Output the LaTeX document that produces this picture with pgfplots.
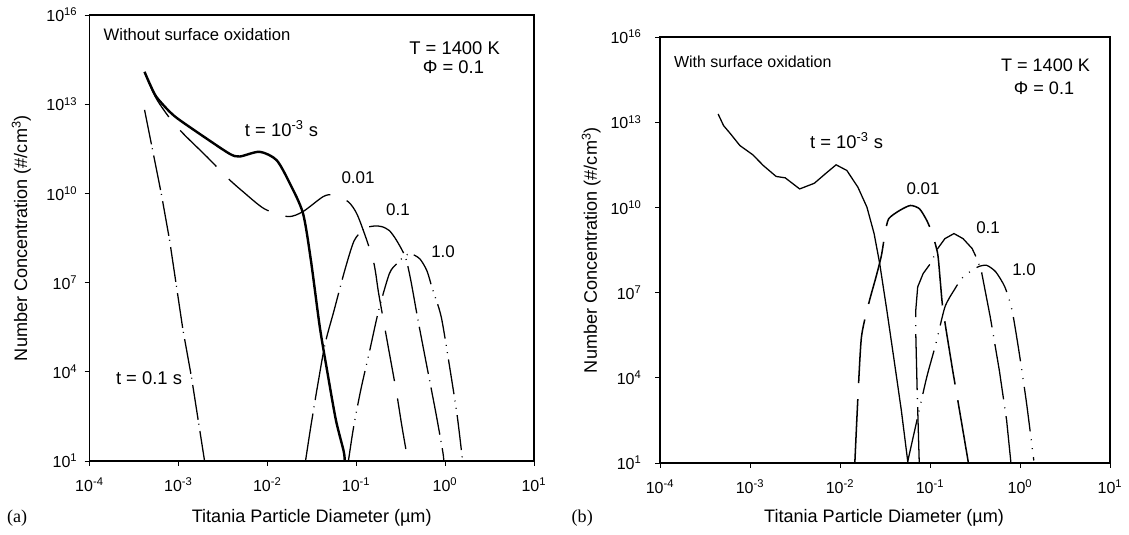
\documentclass[border=0pt]{standalone}
\usepackage{fontspec}
\setmainfont{Liberation Sans}
\newfontfamily\serifa{Liberation Serif}
\usepackage{pgfplots}
\pgfplotsset{compat=1.18}

\pgfplotsset{
  thinline/.style={black, line width=0.8pt},
}
\tikzset{lbl/.style={inner sep=0pt, outer sep=0pt}}

\begin{document}
\begin{tikzpicture}
\path[use as bounding box] (0,0) rectangle (705.6pt,-333.75pt);

% (a) without surface oxidation
\begin{axis}[
    scale only axis, anchor=north west,
    at={(55.94pt,-9.375pt)}, width=277.8pt, height=278.75pt,
    xmode=log, ymode=log,
    xmin=1e-4, xmax=10, ymin=10, ymax=1e16,
    xtick={1e-4,1e-3,1e-2,1e-1,1,10},
    xticklabels={10\textsuperscript{-4},10\textsuperscript{-3},10\textsuperscript{-2},10\textsuperscript{-1},10\textsuperscript{0},10\textsuperscript{1}},
    ytick={1e1,1e4,1e7,1e10,1e13,1e16},
    yticklabels={10\textsuperscript{1},10\textsuperscript{4},10\textsuperscript{7},10\textsuperscript{10},10\textsuperscript{13},10\textsuperscript{16}},
    xminorticks=false, yminorticks=false,
    xtick pos=bottom, ytick pos=left,
    tick align=outside, major tick length=3pt,
    tick style={black, line width=0.6pt},
    axis line style={black, line width=0.7pt},
    tick label style={font=\fontsize{10}{12}\selectfont},
    xticklabel style={yshift=-4pt},
    yticklabel style={xshift=-1pt},
]
% t = 1e-3 s
\addplot[black, line width=1.5pt, smooth, tension=0.45] coordinates {
(4.16e-4,1.23e14) (4.74e-4,5.0e13) (5.64e-4,1.78e13) (7.96e-4,5.6e12)
(1.03e-3,2.95e12) (2.06e-3,7.08e11) (3.78e-3,2.14e11) (4.89e-3,1.74e11)
(8.20e-3,2.51e11) (1.27e-2,1.32e11) (1.79e-2,2.19e10) (2.52e-2,2.14e9)
(3.09e-2,5.75e7) (3.89e-2,3.31e5) (4.69e-2,1.17e4) (5.90e-2,245)
(7.23e-2,21.4) (7.43e-2,10)
};
% t = 0.01 s
\addplot[thinline, smooth, tension=0.45, dash pattern=on 32pt off 11pt] coordinates {
(4.16e-4,1.20e14) (4.74e-4,4.6e13) (5.79e-4,1.35e13) (8.32e-4,2.88e12)
(1.17e-3,9.3e11) (2.11e-3,1.66e11) (3.60e-3,3.24e10) (5.32e-3,1.15e10)
(9.29e-3,3.02e9) (1.71e-2,1.66e9) (2.52e-2,2.45e9) (4.24e-2,7.76e9)
(5.50e-2,8.91e9) (8.13e-2,5.25e9) (0.105,1.66e9) (0.155,5.75e7)
(0.179,4.27e6) (0.2254,9.12e4) (0.2844,1950) (0.3266,148) (0.382,10)
};
% t = 0.1 s (distribution)
\addplot[thinline, smooth, tension=0.45, dash pattern=on 30pt off 4pt on 0.6pt off 4pt] coordinates {
(0.0269,10) (0.0309,148) (0.0372,4170) (0.0448,9.12e4) (0.0564,1.17e6)
(0.0743,2.57e7) (0.0950,2.6e8) (0.125,6.6e8) (0.160,8.0e8) (0.195,7.6e8)
(0.236,5.62e8) (0.2844,2.63e8) (0.358,7.08e7)
(0.411,1.2e7) (0.4955,5.5e5) (0.624,1.51e4) (0.787,417) (0.946,19) (0.964,10)
};
% t = 1.0 s
\addplot[thinline, smooth, tension=0.45, dash pattern=on 22pt off 4pt on 0.6pt off 4pt on 0.6pt off 4pt] coordinates {
(0.0817,10) (0.0938,148) (0.1127,2510) (0.1422,5.37e4) (0.179,1.17e6)
(0.236,2.0e7) (0.2844,4.27e7) (0.3467,7.59e7) (0.411,9.33e7)
(0.519,6.31e7) (0.624,2.51e7) (0.716,6.5e6) (0.904,7.08e5)
(1.138,1.17e4) (1.371,316) (1.574,10)
};
% t = 0.1 s (steep line)
\addplot[thinline, dash pattern=on 22pt off 2.5pt on 0.6pt off 4pt] coordinates {
(4.16e-4,6.46e12) (6.41e-4,1.0e10) (7.96e-4,2.69e8) (1.125e-3,2.57e5)
(1.40e-3,6.9e3) (1.97e-3,10)
};
\end{axis}

% (b) with surface oxidation
\begin{axis}[
    scale only axis, anchor=north west,
    at={(412.5pt,-23.125pt)}, width=281.25pt, height=266.25pt,
    xmode=log, ymode=log,
    xmin=1e-4, xmax=10, ymin=10, ymax=1e16,
    xtick={1e-4,1e-3,1e-2,1e-1,1,10},
    xticklabels={10\textsuperscript{-4},10\textsuperscript{-3},10\textsuperscript{-2},10\textsuperscript{-1},10\textsuperscript{0},10\textsuperscript{1}},
    ytick={1e1,1e4,1e7,1e10,1e13,1e16},
    yticklabels={10\textsuperscript{1},10\textsuperscript{4},10\textsuperscript{7},10\textsuperscript{10},10\textsuperscript{13},10\textsuperscript{16}},
    xminorticks=false, yminorticks=false,
    xtick pos=bottom, ytick pos=left,
    tick align=outside, major tick length=3pt,
    tick style={black, line width=0.6pt},
    axis line style={black, line width=0.7pt},
    tick label style={font=\fontsize{10}{12}\selectfont},
    xticklabel style={yshift=-4pt},
    yticklabel style={xshift=-5pt},
]
% t = 1e-3 s
\addplot[thinline] coordinates {
(4.42e-4,1.95e13) (5.08e-4,7.59e12) (6.11e-4,3.80e12) (7.71e-4,1.51e12)
(1.067e-3,7.24e11) (1.41e-3,2.95e11) (1.95e-3,1.23e11) (2.46e-3,1.10e11)
(3.56e-3,4.47e10) (5.18e-3,7.08e10) (6.84e-3,1.51e11) (9.04e-3,3.16e11)
(1.19e-2,2.0e11) (1.58e-2,5.13e10) (1.99e-2,1.02e10) (2.39e-2,1.2e9)
(2.75e-2,1.12e8) (3.31e-2,2.4e6) (3.99e-2,4.17e4) (4.80e-2,708) (5.68e-2,10)
};
% t = 0.01 s
\addplot[black, line width=0.95pt, smooth, tension=0.4, dash pattern=on 40pt off 10pt] coordinates {
(1.46e-2,10) (1.58e-2,2090) (1.73e-2,2.75e5) (2.08e-2,4.07e6)
(2.51e-2,3.55e7) (2.88e-2,2.0e8) (3.16e-2,1.2e9) (3.47e-2,3.98e9)
(4.58e-2,7.76e9) (6.05e-2,1.17e10) (7.64e-2,8.91e9) (9.20e-2,3.47e9)
(0.1057,1.2e9) (0.1216,2.34e8) (0.130,2.5e7) (0.1396,2.4e6)
(0.176,2.4e4) (0.222,316) (0.267,10)
};
% t = 0.1 s
\addplot[thinline, dash pattern=on 35pt off 5pt on 0.6pt off 5pt] coordinates {
(7.59e-2,10) (7.20e-2,3160) (6.95e-2,3.16e5) (6.95e-2,2.5e6)
(7.29e-2,1.58e7) (8.38e-2,4.68e7) (0.1009,1.05e8) (0.1216,3.55e8)
(0.1462,7.94e8) (0.1845,1.2e9) (0.2328,7.94e8) (0.2938,3.55e8)
(0.331,1.58e8) (0.3707,6.03e7) (0.4667,1.38e6) (0.5888,1.82e4)
(0.7096,316) (0.7925,10)
};
% t = 1.0 s
\addplot[thinline, smooth, tension=0.4, dash pattern=on 28pt off 5pt on 0.6pt off 5pt on 0.6pt off 5pt] coordinates {
(5.6e-2,10) (7.29e-2,417) (9.2e-2,1.07e4) (0.1161,1.58e5) (0.1462,3.09e6)
(0.1862,1.26e7) (0.2328,3.55e7) (0.3373,7.94e7) (0.4256,9.12e7)
(0.537,5.37e7) (0.6776,1.58e7) (0.8147,2.4e6) (0.9817,7.08e4)
(1.183,1230) (1.422,12.3)
};
\end{axis}

% annotations, panel (a)
\node[lbl, anchor=west, font=\fontsize{10.4}{12}\selectfont] at (64.75pt,-21.9pt) {Without surface oxidation};
\node[lbl, font=\fontsize{11.5}{13}\selectfont] at (284.1pt,-30.4pt) {T = 1400 K};
\node[lbl, font=\fontsize{11.5}{13}\selectfont] at (283.4pt,-42.2pt) {Φ = 0.1};
\node[lbl, anchor=base west, font=\fontsize{11.5}{13}\selectfont] at (153.1pt,-85.6pt) {t = 10\textsuperscript{-3} s};
\node[lbl, font=\fontsize{10.6}{12}\selectfont] at (223.75pt,-111.25pt) {0.01};
\node[lbl, font=\fontsize{10.6}{12}\selectfont] at (248.75pt,-131.25pt) {0.1};
\node[lbl, font=\fontsize{10.6}{12}\selectfont] at (276.9pt,-157.5pt) {1.0};
\node[lbl, anchor=east, font=\fontsize{11.5}{13}\selectfont] at (113.75pt,-236.25pt) {t = 0.1 s};
\node[lbl, anchor=west, font=\serifa\fontsize{11.3}{13}\selectfont] at (4.4pt,-323.75pt) {(a)};
\node[lbl, font=\fontsize{11.3}{13}\selectfont] at (194.8pt,-323.75pt) {Titania Particle Diameter (µm)};
\node[lbl, rotate=90, anchor=base, font=\fontsize{11.3}{13}\selectfont] at (16.9pt,-148.75pt) {Number Concentration (\#/cm\textsuperscript{3})};

% annotations, panel (b)
\node[lbl, anchor=west, font=\fontsize{10}{12}\selectfont] at (421.25pt,-38.75pt) {With surface oxidation};
\node[lbl, font=\fontsize{11.3}{13}\selectfont] at (653.4pt,-40.6pt) {T = 1400 K};
\node[lbl, font=\fontsize{11.3}{13}\selectfont] at (652.5pt,-55pt) {Φ = 0.1};
\node[lbl, anchor=base west, font=\fontsize{11.5}{13}\selectfont] at (506.25pt,-92.5pt) {t = 10\textsuperscript{-3} s};
\node[lbl, font=\fontsize{10.6}{12}\selectfont] at (576.9pt,-118.1pt) {0.01};
\node[lbl, font=\fontsize{10.6}{12}\selectfont] at (617.5pt,-142.5pt) {0.1};
\node[lbl, font=\fontsize{10.6}{12}\selectfont] at (640pt,-168.75pt) {1.0};
\node[lbl, anchor=west, font=\serifa\fontsize{11.3}{13}\selectfont] at (357.3pt,-323.75pt) {(b)};
\node[lbl, font=\fontsize{11.3}{13}\selectfont] at (552.5pt,-323.75pt) {Titania Particle Diameter (µm)};
\node[lbl, rotate=90, anchor=base, font=\fontsize{11.3}{13}\selectfont] at (373.1pt,-156.25pt) {Number Concentration (\#/cm\textsuperscript{3})};
\end{tikzpicture}
\end{document}
